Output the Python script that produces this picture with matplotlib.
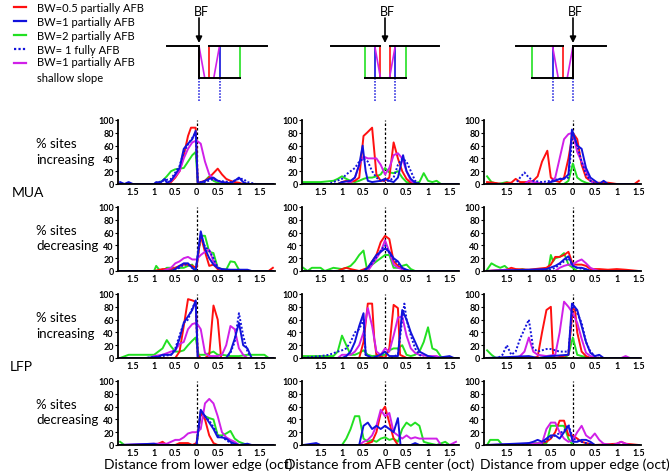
import matplotlib
matplotlib.use('Agg')
import matplotlib.pyplot as plt

plt.rcParams['font.family'] = ['Lato', 'DejaVu Sans']

# colours of the five conditions
c_red, c_blue, c_green, c_mag = '#ff1010', '#1212dc', '#22e022', '#d020e8'
dot_ls = (0, (1, 1))

# ---- data: % sites vs distance (oct) ----
# MUA increasing
mi_low_red = [(-1.8,0),(-0.7,0),(-0.6,3),(-0.5,10),(-0.4,20),(-0.3,45),(-0.2,75),(-0.13,88),(-0.02,88),(0.03,2),(0.1,3),(0.2,5),(0.3,10),(0.4,17),(0.5,24),(0.6,15),(0.7,8),(0.8,5),(0.9,3),(1.0,2),(1.1,0),(1.8,0)]
mi_low_blue = [(-1.8,3),(-1.7,0),(-1.6,3),(-1.5,0),(-1.0,0),(-0.95,3),(-0.85,2),(-0.75,8),(-0.7,2),(-0.6,5),(-0.5,15),(-0.4,25),(-0.3,55),(-0.2,63),(-0.1,70),(-0.02,83),(0.03,0),(0.1,2),(0.2,5),(0.3,8),(0.4,10),(0.5,5),(0.6,3),(0.7,2),(0.8,1),(0.9,5),(1.0,10),(1.1,3),(1.2,0),(1.8,0)]
mi_low_bdot = [(-1.8,0),(-1.0,0),(-0.8,5),(-0.6,8),(-0.5,18),(-0.4,28),(-0.3,50),(-0.2,62),(-0.1,72),(-0.02,80),(0.03,3),(0.2,3),(0.4,8),(0.5,5),(0.8,3),(1.0,8),(1.1,8),(1.2,3),(1.4,0),(1.8,0)]
mi_low_green = [(-1.8,0),(-1.0,0),(-0.9,2),(-0.8,5),(-0.7,12),(-0.6,20),(-0.5,23),(-0.4,24),(-0.3,25),(-0.2,35),(-0.1,45),(-0.02,50),(0.03,3),(0.1,0),(0.2,5),(0.3,12),(0.4,5),(0.5,2),(0.6,0),(1.8,0)]
mi_low_mag = [(-1.8,0),(-0.7,0),(-0.6,5),(-0.5,12),(-0.4,20),(-0.3,40),(-0.2,55),(-0.1,65),(0.0,68),(0.1,63),(0.2,35),(0.3,15),(0.4,8),(0.5,5),(0.6,3),(0.7,2),(0.8,0),(1.8,0)]

mi_ctr_red = [(-1.9,0),(-1.1,0),(-1.0,3),(-0.9,5),(-0.8,3),(-0.7,5),(-0.6,10),(-0.5,75),(-0.42,80),(-0.3,88),(-0.2,15),(-0.1,5),(0,5),(0.1,10),(0.2,65),(0.3,40),(0.4,20),(0.5,8),(0.6,2),(0.7,0),(1.7,0)]
mi_ctr_blue = [(-1.9,0),(-1.1,0),(-1.0,3),(-0.8,5),(-0.7,10),(-0.6,30),(-0.52,60),(-0.45,20),(-0.4,5),(-0.3,3),(-0.1,5),(0,8),(0.1,5),(0.2,3),(0.3,10),(0.42,45),(0.5,20),(0.6,8),(0.7,2),(0.8,0),(1.7,0)]
mi_ctr_bdot = [(-1.9,0),(-1.3,0),(-1.2,3),(-1.0,8),(-0.9,15),(-0.8,20),(-0.7,25),(-0.6,35),(-0.5,40),(-0.4,35),(-0.3,20),(-0.2,10),(-0.1,5),(0,5),(0.1,5),(0.2,10),(0.3,30),(0.4,40),(0.5,35),(0.6,20),(0.7,5),(0.8,0),(1.7,0)]
mi_ctr_green = [(-1.9,3),(-1.5,3),(-1.2,5),(-1.1,8),(-1.0,12),(-0.9,8),(-0.8,5),(-0.7,3),(-0.6,5),(-0.5,8),(-0.4,10),(-0.3,10),(-0.2,12),(-0.1,15),(0,25),(0.1,18),(0.2,17),(0.3,20),(0.4,10),(0.5,3),(0.6,2),(0.7,2),(0.8,3),(0.9,17),(1.0,5),(1.1,3),(1.2,5),(1.3,0),(1.7,0)]
mi_ctr_mag = [(-1.9,0),(-0.9,0),(-0.8,3),(-0.7,10),(-0.6,30),(-0.5,43),(-0.4,40),(-0.3,40),(-0.2,40),(-0.1,30),(0,15),(0.1,25),(0.2,45),(0.3,48),(0.4,40),(0.5,20),(0.6,5),(0.7,0),(1.7,0)]

mi_up_red = [(-1.95,3),(-1.8,2),(-1.6,0),(-1.5,2),(-1.4,2),(-1.3,8),(-1.2,3),(-1.0,3),(-0.9,5),(-0.8,12),(-0.7,35),(-0.58,52),(-0.5,10),(-0.4,5),(-0.3,3),(-0.2,10),(-0.1,40),(0,80),(0.1,70),(0.2,30),(0.3,10),(0.4,5),(0.5,2),(0.8,2),(1.0,0),(1.4,0),(1.5,5)]
mi_up_blue = [(-1.95,0),(-0.6,0),(-0.5,3),(-0.4,5),(-0.3,8),(-0.2,8),(-0.1,15),(-0.02,85),(0.1,60),(0.2,55),(0.3,25),(0.4,10),(0.5,5),(0.6,0),(0.7,5),(0.8,0),(1.5,0)]
mi_up_bdot = [(-1.95,0),(-1.3,0),(-1.2,10),(-1.1,18),(-1.0,10),(-0.9,5),(-0.7,3),(-0.5,5),(-0.3,8),(-0.1,10),(0,80),(0.1,60),(0.2,35),(0.3,15),(0.4,5),(0.5,0),(1.5,0)]
mi_up_green = [(-1.95,12),(-1.85,3),(-1.7,0),(-1.5,3),(-1.4,0),(-0.2,0),(-0.1,5),(0,32),(0.1,10),(0.2,5),(0.3,2),(0.4,0),(1.5,0)]
mi_up_mag = [(-1.95,0),(-1.1,0),(-1.0,5),(-0.9,3),(-0.6,0),(-0.5,3),(-0.4,10),(-0.3,40),(-0.2,70),(-0.1,78),(0,80),(0.1,50),(0.2,35),(0.3,20),(0.4,5),(0.5,0),(1.5,0)]

# MUA decreasing
md_low_red = [(-1.8,0),(-1.0,0),(-0.8,3),(-0.6,3),(-0.5,5),(-0.4,8),(-0.3,10),(-0.2,10),(-0.1,8),(0,5),(0.1,55),(0.2,30),(0.3,8),(0.4,10),(0.5,3),(0.6,0),(1.7,0),(1.8,5)]
md_low_blue = [(-1.8,0),(-0.6,0),(-0.5,3),(-0.4,8),(-0.3,12),(-0.2,12),(-0.1,5),(-0.02,0),(0.1,62),(0.2,35),(0.3,20),(0.4,10),(0.5,5),(0.6,3),(0.8,2),(1.2,2),(1.3,0),(1.8,0)]
md_low_bdot = [(-1.8,0),(-0.6,0),(-0.4,5),(-0.3,10),(-0.2,10),(-0.1,5),(-0.02,0),(0.1,55),(0.2,38),(0.3,32),(0.4,20),(0.5,5),(0.6,2),(0.8,0),(1.8,0)]
md_low_green = [(-1.8,0),(-1.0,0),(-0.95,8),(-0.88,2),(-0.8,0),(-0.7,5),(-0.4,5),(-0.3,5),(-0.2,8),(-0.1,10),(-0.02,0),(0.1,55),(0.2,55),(0.3,30),(0.4,28),(0.5,5),(0.6,3),(0.7,2),(0.8,15),(0.9,14),(1.0,2),(1.1,0),(1.8,0)]
md_low_mag = [(-1.8,0),(-0.8,0),(-0.6,5),(-0.5,12),(-0.4,15),(-0.3,20),(-0.2,22),(-0.1,18),(0,18),(0.1,25),(0.2,30),(0.3,33),(0.4,15),(0.5,5),(0.6,2),(0.7,0),(1.8,0)]

md_ctr_red = [(-1.9,0),(-1.1,0),(-1.0,3),(-0.9,5),(-0.8,3),(-0.6,0),(-0.4,5),(-0.3,15),(-0.2,25),(-0.1,45),(0,55),(0.1,50),(0.2,15),(0.3,8),(0.4,3),(0.5,0),(1.7,0)]
md_ctr_blue = [(-1.9,0),(-0.5,0),(-0.4,5),(-0.3,15),(-0.2,25),(-0.1,30),(0,35),(0.1,30),(0.2,20),(0.3,15),(0.4,5),(0.5,2),(0.6,0),(1.7,0)]
md_ctr_bdot = [(-1.9,0),(-0.5,0),(-0.4,5),(-0.3,12),(-0.2,22),(-0.1,32),(0,40),(0.1,28),(0.2,18),(0.3,12),(0.4,5),(0.5,0),(1.7,0)]
md_ctr_green = [(-1.9,5),(-1.8,0),(-1.7,5),(-1.5,5),(-1.4,0),(-1.2,5),(-1.0,3),(-0.9,5),(-0.8,8),(-0.7,15),(-0.6,25),(-0.5,32),(-0.42,3),(-0.3,10),(-0.2,15),(-0.1,20),(0,25),(0.1,25),(0.2,5),(0.3,5),(0.4,8),(0.5,10),(0.6,3),(0.7,0),(1.7,0)]
md_ctr_mag = [(-1.9,0),(-0.4,0),(-0.3,10),(-0.2,20),(-0.1,30),(0,48),(0.1,30),(0.2,10),(0.3,5),(0.4,3),(0.5,0),(1.7,0)]

md_up_red = [(-1.95,0),(-1.5,2),(-1.4,5),(-1.3,3),(-1.0,2),(-0.6,5),(-0.5,10),(-0.4,22),(-0.3,22),(-0.2,25),(-0.1,30),(0,10),(0.1,10),(0.2,10),(0.3,8),(0.4,3),(0.6,3),(0.8,2),(1.0,3),(1.2,2),(1.5,0)]
md_up_blue = [(-1.95,0),(-1.0,2),(-0.6,3),(-0.4,8),(-0.3,12),(-0.2,18),(-0.1,23),(0,8),(0.1,5),(0.2,5),(0.3,3),(0.4,0),(1.5,0)]
md_up_bdot = [(-1.95,0),(-0.6,0),(-0.4,5),(-0.3,10),(-0.2,15),(-0.1,20),(0,8),(0.1,5),(0.3,2),(0.4,0),(1.5,0)]
md_up_green = [(-1.95,2),(-1.85,12),(-1.75,8),(-1.65,5),(-1.55,8),(-1.45,2),(-1.3,0),(-1.15,3),(-1.0,0),(-0.6,0),(-0.55,5),(-0.5,25),(-0.45,15),(-0.4,20),(-0.3,22),(-0.2,28),(-0.1,10),(0,5),(0.1,0),(1.5,0)]
md_up_mag = [(-1.95,0),(-1.5,2),(-1.3,0),(-0.4,0),(-0.3,5),(-0.2,8),(-0.1,10),(0,10),(0.1,15),(0.2,18),(0.3,12),(0.4,5),(0.5,2),(0.6,0),(1.5,0)]

# LFP increasing
li_low_red = [(-1.8,0),(-0.5,0),(-0.4,10),(-0.3,50),(-0.2,92),(-0.1,90),(-0.02,88),(0.03,5),(0.1,0),(0.2,0),(0.3,5),(0.4,82),(0.5,60),(0.58,0),(1.8,0)]
li_low_blue = [(-1.8,0),(-1.2,0),(-0.9,2),(-0.8,5),(-0.6,5),(-0.5,12),(-0.4,30),(-0.3,55),(-0.2,65),(-0.1,75),(-0.02,90),(0.03,0),(0.7,0),(0.8,10),(0.9,30),(1.0,55),(1.1,20),(1.2,15),(1.3,0),(1.8,0)]
li_low_bdot = [(-1.8,0),(-1.2,0),(-0.8,3),(-0.6,5),(-0.5,15),(-0.4,35),(-0.3,55),(-0.2,60),(-0.1,78),(-0.02,88),(0.03,0),(0.7,0),(0.8,8),(0.9,25),(1.0,70),(1.1,35),(1.2,10),(1.3,0),(1.8,0)]
li_low_green = [(-1.8,0),(-1.6,5),(-1.4,5),(-1.0,5),(-0.8,15),(-0.7,28),(-0.6,18),(-0.5,10),(-0.4,10),(-0.3,12),(-0.2,20),(-0.1,27),(-0.02,32),(0.05,5),(0.2,5),(0.4,10),(0.5,5),(0.6,5),(0.8,3),(1.0,3),(1.2,5),(1.4,5),(1.6,5),(1.7,0),(1.8,0)]
li_low_mag = [(-1.8,0),(-1.1,0),(-1.0,3),(-0.8,5),(-0.6,10),(-0.5,12),(-0.4,22),(-0.3,25),(-0.2,45),(-0.1,53),(0,55),(0.1,45),(0.2,8),(0.3,3),(0.5,3),(0.6,5),(0.7,20),(0.8,50),(0.9,45),(1.0,15),(1.1,5),(1.2,0),(1.8,0)]

li_ctr_red = [(-1.9,0),(-0.6,0),(-0.5,25),(-0.4,85),(-0.3,85),(-0.25,30),(-0.2,5),(0,0),(0.1,15),(0.2,83),(0.3,78),(0.35,5),(0.5,0),(1.7,0)]
li_ctr_blue = [(-1.9,0),(-1.0,0),(-0.9,3),(-0.8,10),(-0.7,25),(-0.6,50),(-0.5,70),(-0.45,5),(-0.3,0),(-0.1,5),(0,10),(0.1,3),(0.3,3),(0.4,75),(0.5,60),(0.6,40),(0.7,25),(0.8,10),(1.0,3),(1.2,0),(1.5,3),(1.6,0),(1.7,0)]
li_ctr_bdot = [(-1.9,0),(-1.5,3),(-1.3,5),(-1.1,10),(-1.0,12),(-0.9,15),(-0.8,25),(-0.7,40),(-0.6,45),(-0.5,60),(-0.45,5),(-0.3,0),(0.1,0),(0.3,5),(0.4,60),(0.45,85),(0.5,60),(0.6,35),(0.7,15),(0.8,5),(0.9,0),(1.7,0)]
li_ctr_green = [(-1.9,3),(-1.2,3),(-1.1,10),(-1.0,35),(-0.9,20),(-0.8,5),(-0.7,5),(-0.6,8),(-0.5,12),(-0.4,5),(-0.3,3),(0,5),(0.1,12),(0.2,15),(0.3,15),(0.4,20),(0.5,5),(0.6,3),(0.7,5),(0.8,10),(0.9,25),(1.0,48),(1.1,15),(1.2,12),(1.3,2),(1.4,0),(1.7,0)]
li_ctr_mag = [(-1.9,0),(-1.1,0),(-1.0,5),(-0.8,5),(-0.7,10),(-0.6,20),(-0.5,40),(-0.4,78),(-0.3,50),(-0.2,10),(-0.1,5),(0,15),(0.1,10),(0.2,35),(0.3,63),(0.4,65),(0.5,35),(0.6,15),(0.7,8),(0.8,5),(1.0,3),(1.2,3),(1.3,0),(1.7,0)]

li_up_red = [(-1.95,0),(-0.9,0),(-0.8,2),(-0.7,40),(-0.6,75),(-0.5,80),(-0.45,5),(-0.4,0),(-0.1,5),(0,78),(0.05,75),(0.1,40),(0.2,10),(0.3,3),(0.4,0),(1.5,0)]
li_up_blue = [(-1.95,0),(-1.0,3),(-0.8,0),(-0.5,3),(-0.1,5),(-0.02,85),(0.1,75),(0.2,50),(0.3,25),(0.4,8),(0.5,3),(0.6,5),(0.7,0),(1.5,0)]
li_up_bdot = [(-1.95,0),(-1.7,0),(-1.6,5),(-1.5,20),(-1.4,5),(-1.3,10),(-1.2,30),(-1.1,45),(-1.0,60),(-0.9,15),(-0.8,10),(-0.7,12),(-0.6,14),(-0.5,14),(-0.4,12),(-0.3,10),(-0.2,10),(-0.1,10),(0,85),(0.1,70),(0.2,55),(0.3,25),(0.4,10),(0.5,3),(0.6,0),(1.5,0)]
li_up_green = [(-1.95,12),(-1.85,5),(-1.75,0),(-0.2,0),(-0.1,5),(0,32),(0.1,5),(0.2,3),(0.4,0),(1.5,0)]
li_up_mag = [(-1.95,0),(-1.3,0),(-1.2,3),(-1.1,10),(-1.0,32),(-0.9,10),(-0.8,5),(-0.6,3),(-0.4,5),(-0.3,40),(-0.2,88),(-0.1,80),(0,70),(0.1,55),(0.2,30),(0.3,8),(0.4,3),(0.6,0),(1.1,0),(1.2,3),(1.3,0),(1.5,0)]

# LFP decreasing
ld_low_red = [(-1.8,0),(-1.0,0),(-0.9,2),(-0.8,5),(-0.7,0),(-0.5,0),(-0.4,3),(-0.2,3),(-0.1,0),(0,3),(0.1,50),(0.2,40),(0.3,15),(0.4,3),(0.5,0),(1.8,0)]
ld_low_blue = [(-1.8,0),(-1.0,2),(-0.9,0),(0,0),(0.1,55),(0.2,45),(0.3,35),(0.4,25),(0.5,12),(0.6,12),(0.7,10),(0.8,5),(0.9,2),(1.0,0),(1.2,2),(1.3,0),(1.8,0)]
ld_low_bdot = [(-1.8,0),(0,0),(0.1,53),(0.2,45),(0.3,38),(0.4,28),(0.5,15),(0.6,12),(0.7,8),(0.8,3),(0.9,0),(1.8,0)]
ld_low_green = [(-1.8,5),(-1.7,0),(0,0),(0.1,52),(0.2,45),(0.3,42),(0.4,40),(0.5,15),(0.6,15),(0.7,18),(0.8,22),(0.9,10),(1.0,5),(1.2,0),(1.8,0)]
ld_low_mag = [(-1.8,0),(-1.0,2),(-0.7,2),(-0.6,5),(-0.5,8),(-0.4,8),(-0.3,12),(-0.2,18),(-0.1,20),(0,20),(0.1,25),(0.2,65),(0.3,72),(0.4,65),(0.5,45),(0.6,20),(0.7,12),(0.8,8),(0.9,5),(1.0,0),(1.8,0)]

ld_ctr_red = [(-1.9,0),(-0.5,0),(-0.3,5),(-0.2,20),(-0.1,50),(0,60),(0.1,35),(0.2,10),(0.3,0),(1.7,0)]
ld_ctr_blue = [(-1.9,0),(-1.6,3),(-1.5,0),(-0.6,0),(-0.5,30),(-0.4,35),(-0.3,25),(-0.2,30),(-0.1,25),(0,30),(0.1,25),(0.2,20),(0.3,42),(0.36,0),(0.6,0),(0.7,3),(0.8,0),(1.7,0)]
ld_ctr_bdot = []
ld_ctr_green = [(-1.9,0),(-1.0,0),(-0.9,10),(-0.8,25),(-0.7,45),(-0.6,45),(-0.5,10),(-0.4,5),(-0.3,8),(-0.2,5),(-0.1,10),(0,12),(0.1,8),(0.2,10),(0.3,5),(0.4,25),(0.5,35),(0.6,30),(0.7,35),(0.8,30),(0.9,5),(1.0,3),(1.2,0),(1.4,5),(1.5,0),(1.7,0)]
ld_ctr_mag = [(-1.9,0),(-0.6,0),(-0.5,5),(-0.4,8),(-0.3,15),(-0.2,30),(-0.1,55),(0,45),(0.1,50),(0.2,20),(0.3,15),(0.4,10),(0.5,15),(0.6,10),(0.7,12),(0.8,10),(0.9,10),(1.0,10),(1.2,10),(1.3,0),(1.5,0),(1.65,5)]

ld_up_red = [(-1.95,0),(-0.9,0),(-0.6,5),(-0.5,10),(-0.4,20),(-0.3,38),(-0.2,38),(-0.1,15),(0,15),(0.1,10),(0.2,5),(0.3,3),(0.5,0),(1.0,2),(1.1,5),(1.2,2),(1.5,0)]
ld_up_blue = [(-1.95,0),(-1.0,3),(-0.9,5),(-0.8,8),(-0.7,5),(-0.6,10),(-0.5,15),(-0.4,15),(-0.3,10),(-0.2,20),(-0.1,30),(0,5),(0.1,5),(0.2,8),(0.3,8),(0.4,5),(0.5,0),(1.5,0)]
ld_up_bdot = [(-1.95,0),(-0.7,0),(-0.6,8),(-0.4,15),(-0.2,22),(-0.1,32),(0,10),(0.2,5),(0.3,3),(0.5,0),(1.5,0)]
ld_up_green = [(-1.95,0),(-1.88,8),(-1.7,8),(-1.6,0),(-1.1,0),(-1.0,3),(-0.6,3),(-0.5,30),(-0.4,30),(-0.3,30),(-0.2,30),(-0.1,10),(0,0),(1.5,0)]
ld_up_mag = [(-1.95,0),(-1.0,2),(-0.7,3),(-0.6,25),(-0.5,35),(-0.4,35),(-0.3,20),(-0.2,10),(-0.1,5),(0,8),(0.1,20),(0.2,30),(0.3,15),(0.4,10),(0.5,18),(0.6,8),(0.7,2),(0.9,0),(1.0,2),(1.1,5),(1.2,2),(1.3,0),(1.5,0)]

panels = [
    [(mi_low_green, mi_low_red, mi_low_mag, mi_low_bdot, mi_low_blue),
     (mi_ctr_green, mi_ctr_red, mi_ctr_mag, mi_ctr_bdot, mi_ctr_blue),
     (mi_up_green, mi_up_red, mi_up_mag, mi_up_bdot, mi_up_blue)],
    [(md_low_green, md_low_red, md_low_mag, md_low_bdot, md_low_blue),
     (md_ctr_green, md_ctr_red, md_ctr_mag, md_ctr_bdot, md_ctr_blue),
     (md_up_green, md_up_red, md_up_mag, md_up_bdot, md_up_blue)],
    [(li_low_green, li_low_red, li_low_mag, li_low_bdot, li_low_blue),
     (li_ctr_green, li_ctr_red, li_ctr_mag, li_ctr_bdot, li_ctr_blue),
     (li_up_green, li_up_red, li_up_mag, li_up_bdot, li_up_blue)],
    [(ld_low_green, ld_low_red, ld_low_mag, ld_low_bdot, ld_low_blue),
     (ld_ctr_green, ld_ctr_red, ld_ctr_mag, ld_ctr_bdot, ld_ctr_blue),
     (ld_up_green, ld_up_red, ld_up_mag, ld_up_bdot, ld_up_blue)],
]
series_style = [(c_green, '-'), (c_red, '-'), (c_mag, '-'), (c_blue, dot_ls), (c_blue, '-')]

xticks = [-1.5, -1, -0.5, 0, 0.5, 1, 1.5]
xticklabels = ['1.5', '1', '0.5', '0', '0.5', '1', '1.5']
yticks = [0, 20, 40, 60, 80, 100]
xlims = [(-1.85, 1.85), (-1.93, 1.72), (-2.02, 1.55)]
xlabels = ['Distance from lower edge (oct)', 'Distance from AFB center (oct)',
           'Distance from upper edge (oct)']

legend_labels = ['BW=0.5 partially AFB', 'BW=1 partially AFB', 'BW=2 partially AFB',
                 'BW= 1 fully AFB', 'BW=1 partially AFB\nshallow slope']
legend_styles = [(c_red, '-'), (c_blue, '-'), (c_green, '-'), (c_blue, dot_ls), (c_mag, '-')]

W, H = 669, 477
fig = plt.figure(figsize=(W / 100, H / 100), dpi=100)

def fx(px):
    return px / W

def fy(py):
    return 1 - py / H

# ---- overlay in pixel coordinates: legend + schematics ----
ov = fig.add_axes([0, 0, 1, 1])
ov.set_xlim(0, W)
ov.set_ylim(H, 0)
ov.axis('off')

leg_y = [8, 22, 36, 50, 64]
for (col, ls), lab, yy in zip(legend_styles, legend_labels, leg_y):
    ov.plot([14, 26], [yy, yy], color=col, ls=ls, lw=1.6)
    if '\n' in lab:
        ov.text(37, yy - 6.5, lab, fontsize=8, va='top', linespacing=1.45)
    else:
        ov.text(37, yy, lab, fontsize=8, va='center')

# schematic: BF position, px per octave, outline extents
sch_bf = [199, 385, 573]
sch_left = [167, 331, 516]
sch_right = [267, 439, 606]
sch_kind = ['low', 'ctr', 'up']
sch_scale = 20.5
top_y, bot_y, dot_y = 47, 79, 103
bw_red, bw_blue, bw_green = 0.5, 1.0, 2.0
slope = 0.28

def edges(kind, bw):
    if kind == 'low':
        return 0.0, bw
    if kind == 'up':
        return -bw, 0.0
    return -bw / 2, bw / 2

for bf, L, R, kind in zip(sch_bf, sch_left, sch_right, sch_kind):
    px = lambda o: bf + o * sch_scale
    rlo, rhi = edges(kind, bw_red)
    blo, bhi = edges(kind, bw_blue)
    glo, ghi = edges(kind, bw_green)
    for lo, hi, col in ((glo, ghi, c_green), (blo, bhi, c_blue), (rlo, rhi, c_red)):
        ov.plot([px(lo), px(lo)], [top_y, bot_y], color=col, lw=1.2)
        ov.plot([px(hi), px(hi)], [top_y, bot_y], color=col, lw=1.2)
    ov.plot([px(blo), px(blo + slope)], [top_y, bot_y], color=c_mag, lw=1.2)
    ov.plot([px(bhi - slope), px(bhi)], [bot_y, top_y], color=c_mag, lw=1.2)
    for b in (blo, bhi):
        ov.plot([px(b), px(b)], [bot_y, dot_y], color=c_blue, ls=dot_ls, lw=1.1)
    ov.plot([L, px(rlo)], [top_y, top_y], color='k', lw=1.4)
    ov.plot([px(rhi), R], [top_y, top_y], color='k', lw=1.4)
    ov.plot([px(glo), px(ghi)], [bot_y, bot_y], color='k', lw=1.4)
    if kind in ('low', 'up'):
        ov.plot([bf, bf], [top_y, bot_y], color='k', lw=1.4)
    ov.annotate('', xy=(bf, 44), xytext=(bf, 19),
                arrowprops=dict(arrowstyle='-|>', color='k', lw=1.2,
                                mutation_scale=9, shrinkA=0, shrinkB=0))
    ov.text(bf + 2, 12, 'BF', fontsize=9, ha='center', va='center')

# ---- data panels ----
col_left = [118, 302, 484]
row_zero = [185, 272, 359, 446]
pw, ph = 157, 64

for r in range(4):
    for c in range(3):
        ax = fig.add_axes([fx(col_left[c]), fy(row_zero[r]), pw / W, ph / H])
        ax.plot([0, 0], [0, 100], color='k', ls=(0, (2, 1.6)), lw=0.9, zorder=1)
        for pts, (col, ls) in zip(panels[r][c], series_style):
            if not pts:
                continue
            xs = [p[0] for p in pts]
            ys = [p[1] for p in pts]
            ax.plot(xs, ys, color=col, ls=ls, lw=1.4, zorder=2)
        ax.set_xlim(*xlims[c])
        ax.set_ylim(0, 100)
        ax.set_xticks(xticks)
        ax.set_xticklabels(xticklabels)
        ax.set_yticks(yticks)
        for s in ('top', 'right'):
            ax.spines[s].set_visible(False)
        for s in ('left', 'bottom'):
            ax.spines[s].set_linewidth(1.3)
        ax.tick_params(axis='x', length=0, pad=2, labelsize=6.5)
        ax.tick_params(axis='y', length=2, width=0.8, pad=1, labelsize=6.5)
        for lab in ax.get_xticklabels() + ax.get_yticklabels():
            lab.set_fontweight('bold')
        ax.patch.set_alpha(0)

# row labels
row_text = ['% sites\nincreasing', '% sites\ndecreasing', '% sites\nincreasing', '% sites\ndecreasing']
for r, t in enumerate(row_text):
    fig.text(fx(36), fy(row_zero[r] - 33), t, fontsize=9.5, ha='left', va='center', linespacing=1.3)
fig.text(fx(12), fy(193), 'MUA', fontsize=10, ha='left', va='center')
fig.text(fx(10), fy(367), 'LFP', fontsize=10, ha='left', va='center')

xl_centers = [198, 380, 575]
for c in range(3):
    fig.text(fx(xl_centers[c]), fy(465), xlabels[c], fontsize=10, ha='center', va='center')

fig.savefig('out.png', dpi=100)
